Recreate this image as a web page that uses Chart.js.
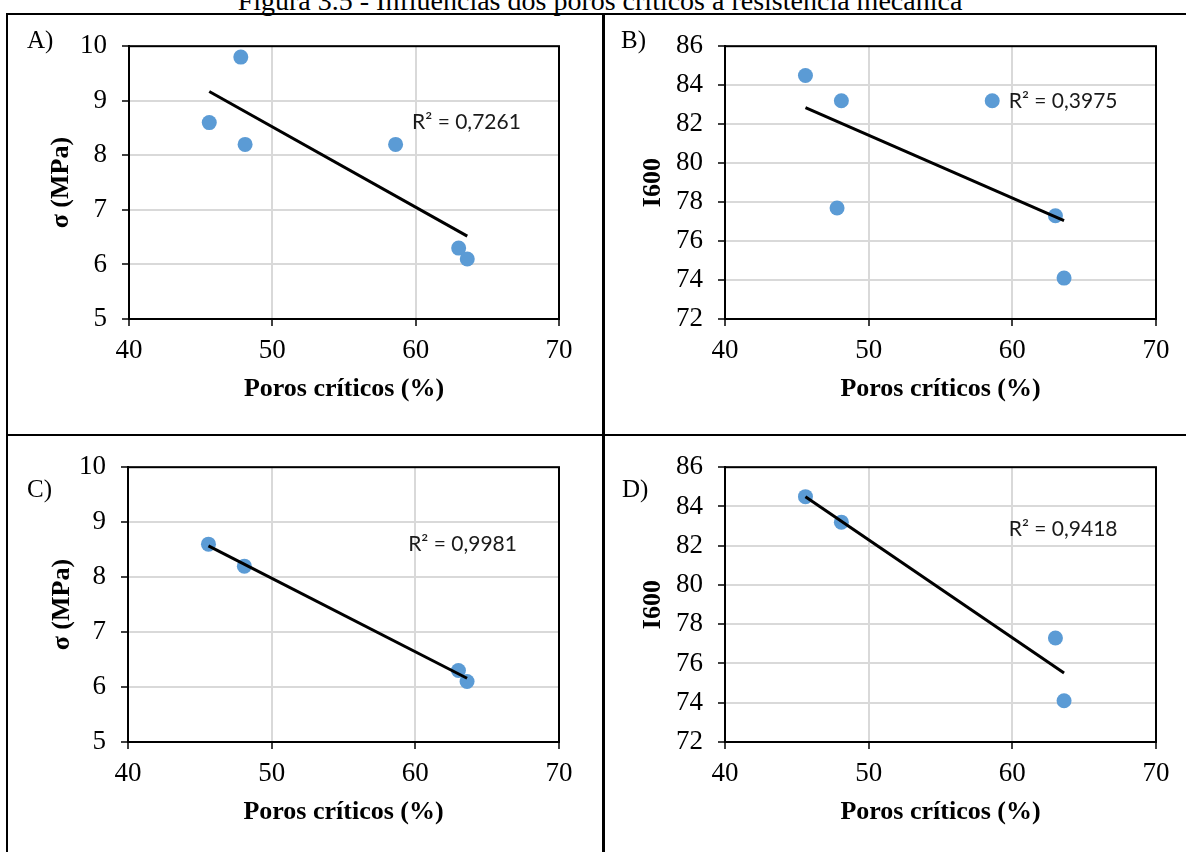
<!DOCTYPE html>
<html>
<head>
<meta charset="utf-8">
<script src="https://cdn.jsdelivr.net/npm/chart.js@4.4.1/dist/chart.umd.min.js"></script>
<style>
  body { margin: 0; background: #fff; width: 1186px; height: 852px; overflow: hidden; position: relative; font-family: 'Liberation Serif', 'Times New Roman', serif; }
  .title { position: absolute; left: 0; width: 1200px; top: -13px; text-align: center; font-size: 28px; line-height: 28px; }
  .line { position: absolute; background: #000; }
  .lbl { position: absolute; font-size: 25px; line-height: 25px; }
  .panel { position: absolute; }
</style>
</head>
<body>
<div class="title">Figura 3.5 - Influências dos poros críticos à resistência mecânica</div>
<div class="line" style="left:6px;top:13px;width:1180px;height:2px"></div>
<div class="line" style="left:6px;top:13px;width:2px;height:840px"></div>
<div class="line" style="left:602px;top:13px;width:3px;height:840px"></div>
<div class="line" style="left:6px;top:434px;width:1180px;height:2px"></div>

<div class="panel" style="left:8px;top:15px;width:594px;height:419px"><canvas id="chartA"></canvas></div>
<div class="panel" style="left:605px;top:15px;width:581px;height:419px"><canvas id="chartB"></canvas></div>
<div class="panel" style="left:8px;top:436px;width:594px;height:416px"><canvas id="chartC"></canvas></div>
<div class="panel" style="left:605px;top:436px;width:581px;height:416px"><canvas id="chartD"></canvas></div>

<div class="lbl" style="left:27px;top:27px">A)</div>
<div class="lbl" style="left:621px;top:27px">B)</div>
<div class="lbl" style="left:27px;top:476px">C)</div>
<div class="lbl" style="left:622px;top:476px">D)</div>

<script>
// values
const porosAB = [45.6, 47.8, 48.1, 58.6, 63.0, 63.6];
const sigmaA = [8.6, 9.8, 8.2, 8.2, 6.3, 6.1];
const i600B = [84.5, 77.7, 83.2, 83.2, 77.3, 74.1];
const porosCD = [45.6, 48.1, 63.0, 63.6];
const sigmaC = [8.6, 8.2, 6.3, 6.1];
const i600D = [84.5, 83.2, 77.3, 74.1];

// trend line ends (linear fit, Excel)
const trendX = [45.6, 63.6];
const trendA = [9.17, 6.52];
const trendB = [82.85, 77.05];
const trendC = [8.57, 6.16];
const trendD = [84.5, 75.52];

const r2Texts = ['R² = 0,7261', 'R² = 0,3975', 'R² = 0,9981', 'R² = 0,9418'];

const xTicks = [40, 50, 60, 70];
const sigmaTicks = [5, 6, 7, 8, 9, 10];
const i600Ticks = [72, 74, 76, 78, 80, 82, 84, 86];

const serif = "'Liberation Serif', 'Times New Roman', serif";
Chart.defaults.color = '#000';

const toPts = (xs, ys) => xs.map((x, i) => ({x: x, y: ys[i]}));

// black frame round the plot area
const frame = {
  id: 'frame',
  afterDatasetsDraw(chart) {
    const a = chart.chartArea, ctx = chart.ctx;
    ctx.save();
    ctx.strokeStyle = '#000';
    ctx.lineWidth = 2;
    ctx.strokeRect(a.left, a.top, a.right - a.left, a.bottom - a.top);
    ctx.restore();
  }
};

// R² text written at a data position
const r2Label = {
  id: 'r2Label',
  afterDraw(chart, args, opts) {
    if (!opts.text) return;
    const ctx = chart.ctx;
    ctx.save();
    ctx.font = "21px Lato, 'Open Sans', sans-serif";
    ctx.fillStyle = '#1a1a1a';
    ctx.textAlign = 'left';
    ctx.textBaseline = 'middle';
    ctx.fillText(opts.text, chart.scales.x.getPixelForValue(opts.x), chart.scales.y.getPixelForValue(opts.y));
    ctx.restore();
  }
};

function makeChart(id, xs, ys, trend, yTicks, yTitle, r2, r2pos, lay) {
  const ctx = document.getElementById(id).getContext('2d');
  return new Chart(ctx, {
    type: 'scatter',
    data: {
      datasets: [
        {
          data: toPts(trendX, trend),
          showLine: true,
          borderColor: '#000',
          borderWidth: 3,
          pointRadius: 0,
          order: 0
        },
        {
          data: toPts(xs, ys),
          backgroundColor: '#5B9BD5',
          borderColor: '#5B9BD5',
          pointRadius: 7.5,
          pointBorderWidth: 0,
          order: 1
        }
      ]
    },
    options: {
      responsive: true,
      maintainAspectRatio: false,
      animation: false,
      layout: { padding: { top: lay.top, right: lay.right, left: 0, bottom: 0 } },
      plugins: {
        legend: { display: false },
        tooltip: { enabled: false },
        r2Label: { text: r2, x: r2pos[0], y: r2pos[1] }
      },
      scales: {
        x: {
          type: 'linear',
          min: xTicks[0],
          max: xTicks[xTicks.length - 1],
          afterBuildTicks: s => { s.ticks = xTicks.map(v => ({value: v})); },
          afterFit: s => { s.height = lay.xh; },
          ticks: { font: { family: serif, size: 27 }, padding: 9, maxRotation: 0 },
          grid: { color: '#d9d9d9', lineWidth: 2, tickColor: '#000', tickLength: 7, tickWidth: 1.5 },
          border: { color: '#000', width: 2 },
          title: {
            display: true,
            text: 'Poros críticos (%)',
            font: { family: serif, size: 26, weight: 'bold' },
            padding: { top: 0, bottom: lay.xtp }
          }
        },
        y: {
          type: 'linear',
          min: yTicks[0],
          max: yTicks[yTicks.length - 1],
          afterBuildTicks: s => { s.ticks = yTicks.map(v => ({value: v})); },
          afterFit: s => { s.width = lay.yw; },
          ticks: { font: { family: serif, size: 27 }, padding: 15 },
          grid: { color: '#d9d9d9', lineWidth: 2, tickColor: '#000', tickLength: 7, tickWidth: 1.5 },
          border: { color: '#000', width: 2 },
          title: {
            display: true,
            text: yTitle,
            font: { family: serif, size: 26, weight: 'bold' },
            padding: { top: lay.ytp, bottom: 0 }
          }
        }
      }
    },
    plugins: [frame, r2Label]
  });
}

makeChart('chartA', porosAB, sigmaA, trendA, sigmaTicks, 'σ (MPa)', r2Texts[0], [59.75, 8.6],
  { top: 27, right: 43, yw: 121, xh: 115, xtp: 29, ytp: 38 });
makeChart('chartB', porosAB, i600B, trendB, i600Ticks, 'I600', r2Texts[1], [59.75, 83.15],
  { top: 27, right: 30, yw: 120, xh: 115, xtp: 29, ytp: 33 });
makeChart('chartC', porosCD, sigmaC, trendC, sigmaTicks, 'σ (MPa)', r2Texts[2], [59.5, 8.6],
  { top: 30, right: 43, yw: 120, xh: 110, xtp: 24, ytp: 39 });
makeChart('chartD', porosCD, i600D, trendD, i600Ticks, 'I600', r2Texts[3], [59.75, 82.85],
  { top: 30, right: 30, yw: 120, xh: 110, xtp: 24, ytp: 33 });
</script>
</body>
</html>
